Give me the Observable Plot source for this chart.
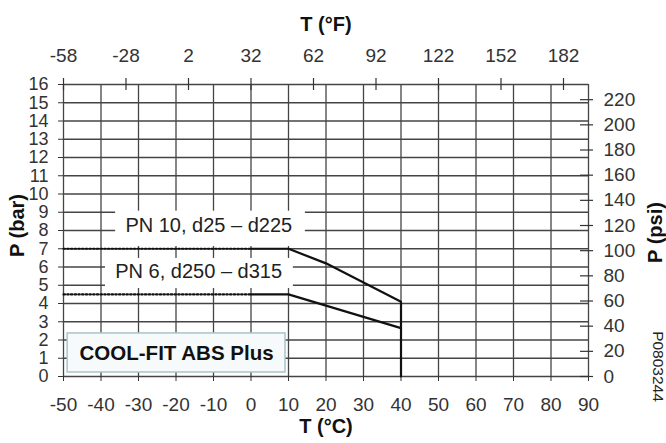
<!DOCTYPE html>
<html>
<head>
<meta charset="utf-8">
<script src="https://cdn.jsdelivr.net/npm/d3@7"></script>
<script src="https://cdn.jsdelivr.net/npm/@observablehq/plot@0.6"></script>
<style>
  html, body { margin: 0; padding: 0; background: #fff; }
</style>
</head>
<body>
<div id="chart"></div>
<script>
// ---- tick labels ----
const celsiusTicks = [-50, -40, -30, -20, -10, 0, 10, 20, 30, 40, 50, 60, 70, 80, 90];
const barTicks = [0, 1, 2, 3, 4, 5, 6, 7, 8, 9, 10, 11, 12, 13, 14, 15, 16];
const fahrenheitTicks = [-58, -28, 2, 32, 62, 92, 122, 152, 182];
const psiTicks = [0, 20, 40, 60, 80, 100, 120, 140, 160, 180, 200, 220];

// ---- series values (T in °C, P in bar) ----
const pn10DottedT = [-50, 0];
const pn10DottedP = [7, 7];
const pn10T = [0, 10, 20, 40, 40];
const pn10P = [7, 7, 6.2, 4.1, 0];

const pn6DottedT = [-50, 0];
const pn6DottedP = [4.5, 4.5];
const pn6T = [0, 10, 40];
const pn6P = [4.5, 4.5, 2.65];

// ---- texts ----
const seriesLabels = ["PN 10, d25 – d225", "PN 6, d250 – d315"];
const productName = "COOL-FIT ABS Plus";
const drawingCode = "P0803244";
const titleTop = "T (°F)";
const titleBottom = "T (°C)";
const titleLeft = "P (bar)";
const titleRight = "P (psi)";

// ---- annotation anchors (data units) ----
const labelX = [-33.5, -36.2];
const labelY = [8.27, 5.73];
const labelBoxX1 = [-36.1, -38.8];
const labelBoxX2 = [14.5, 11.3];
const labelBoxY1 = [7.12, 4.82];
const labelBoxY2 = [9.06, 6.47];
const productBoxX = [-48.9, 9.2];
const productBoxY = [0.22, 2.36];

const PSI_PER_BAR = 14.5038;
const fToC = f => (f - 32) * 5 / 9;
const psiToBar = p => p / PSI_PER_BAR;

const zip = (xs, ys) => xs.map((x, i) => ({x, y: ys[i]}));

const fTicksC = fahrenheitTicks.map(fToC);
const psiTicksBar = psiTicks.map(psiToBar);

const labelBoxes = labelBoxX1.map((x1, i) => ({x1, x2: labelBoxX2[i], y1: labelBoxY1[i], y2: labelBoxY2[i]}));
const labels = seriesLabels.map((text, i) => ({text, x: labelX[i], y: labelY[i]}));
const productBox = [{x1: productBoxX[0], x2: productBoxX[1], y1: productBoxY[0], y2: productBoxY[1]}];

const font = "'Liberation Sans', Arial, Helvetica, sans-serif";
const gridColor = "#444";
const dotted = {stroke: "#111", strokeWidth: 2.2, strokeDasharray: "1.5,2.2"};

const chart = Plot.plot({
  width: 666,
  height: 443,
  marginLeft: 63,
  marginRight: 78,
  marginTop: 84,
  marginBottom: 67,
  x: {domain: [-50, 90]},
  y: {domain: [0, 16]},
  style: {fontFamily: font, fontSize: "19px", color: "#333", background: "#fff", overflow: "visible"},
  marks: [
    Plot.gridX(celsiusTicks, {stroke: gridColor, strokeOpacity: 1, strokeWidth: 1.3}),
    Plot.gridY(barTicks, {stroke: gridColor, strokeOpacity: 1, strokeWidth: 1.3}),
    // white label backgrounds
    Plot.rect(labelBoxes, {x1: "x1", x2: "x2", y1: "y1", y2: "y2", fill: "white"}),
    // bottom °C axis
    Plot.axisX(celsiusTicks, {anchor: "bottom", tickSize: 5, tickPadding: 16, label: null, tickFormat: d => String(d), stroke: "#333"}),
    // left bar axis
    Plot.axisY(barTicks, {anchor: "left", tickSize: 5, tickPadding: 10, label: null, fontSize: 18, tickFormat: d => String(d), stroke: "#333"}),
    // top °F axis
    Plot.ruleX(fTicksC, {x: d => d, y1: 16, y2: 16, insetTop: -6, insetBottom: -6, stroke: "#333", strokeWidth: 1.2}),
    Plot.axisX(fTicksC, {anchor: "top", tickSize: 0, tickPadding: 23, label: null, tickFormat: c => String(Math.round(c * 9 / 5 + 32))}),
    // right psi axis
    Plot.ruleY(psiTicksBar, {y: d => d, x1: 90, x2: 90, insetLeft: -8, insetRight: -5, stroke: "#333", strokeWidth: 1.2}),
    Plot.axisY(psiTicksBar, {anchor: "right", tickSize: 0, tickPadding: 15, label: null, tickFormat: b => String(Math.round(b * PSI_PER_BAR))}),
    // curves
    Plot.line(zip(pn10DottedT, pn10DottedP), {x: "x", y: "y", ...dotted}),
    Plot.line(zip(pn6DottedT, pn6DottedP), {x: "x", y: "y", ...dotted}),
    Plot.line(zip(pn10T, pn10P), {x: "x", y: "y", stroke: "#111", strokeWidth: 2.2}),
    Plot.line(zip(pn6T, pn6P), {x: "x", y: "y", stroke: "#111", strokeWidth: 2.2}),
    // series labels
    Plot.text(labels, {x: "x", y: "y", text: "text", textAnchor: "start", fontSize: 20, fill: "#222"}),
    // product box
    Plot.rect(productBox, {x1: "x1", x2: "x2", y1: "y1", y2: "y2", fill: "#f6fafb", stroke: "#a9c4c9", strokeWidth: 1.5}),
    Plot.text([productName], {x: (productBoxX[0] + productBoxX[1]) / 2, y: (productBoxY[0] + productBoxY[1]) / 2, text: d => d, fontSize: 20.5, fontWeight: "bold", fill: "#111"}),
    // axis titles
    Plot.text([titleTop], {frameAnchor: "top", dy: -68, text: d => d, fontSize: 20, fontWeight: "bold", fill: "#111"}),
    Plot.text([titleBottom], {frameAnchor: "bottom", dy: 56, text: d => d, fontSize: 20, fontWeight: "bold", fill: "#111"}),
    Plot.text([titleLeft], {frameAnchor: "left", textAnchor: "middle", dx: -46, dy: -5, rotate: -90, text: d => d, fontSize: 20, fontWeight: "bold", fill: "#111"}),
    Plot.text([titleRight], {frameAnchor: "right", textAnchor: "middle", dx: 67, dy: 2, rotate: -90, text: d => d, fontSize: 20, fontWeight: "bold", fill: "#111"}),
    Plot.text([drawingCode], {frameAnchor: "bottom-right", textAnchor: "middle", dx: 64, dy: -10, rotate: 90, text: d => d, fontSize: 15.5, fill: "#222"})
  ]
});

document.getElementById("chart").appendChild(chart);
</script>
</body>
</html>
